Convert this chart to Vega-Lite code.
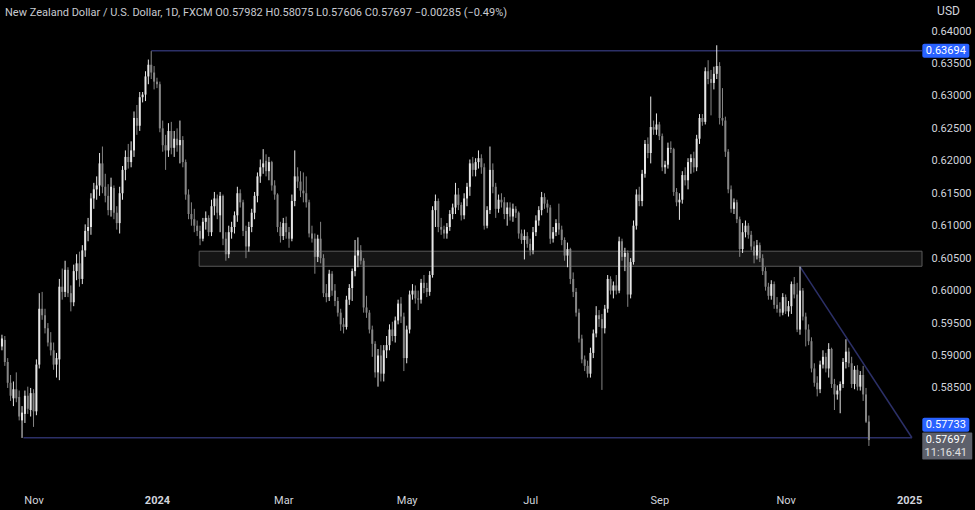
{
"$schema": "https://vega.github.io/schema/vega-lite/v6.json",
"width": 922,
"height": 482,
"autosize": {"type": "none"},
"padding": {"left": 0, "top": 0, "right": 53, "bottom": 28},
"background": "#000000",
"config": {"view": {"stroke": null}, "font": "Roboto", "scale": {"continuousPadding": 0}},
"title": {"text": "New Zealand Dollar / U.S. Dollar, 1D, FXCM   O0.57982  H0.58075  L0.57606  C0.57697  −0.00285 (−0.49%)", "anchor": "start", "frame": "group", "orient": "top", "offset": -18, "dx": 5, "fontSize": 11, "fontWeight": "normal", "color": "#c8cad0", "font": "Roboto"},
"datasets": {
"candles": [
{"i":-54,"o":0.5914,"h":0.5932,"l":0.5908,"c":0.5926},
{"i":-53,"o":0.5924,"h":0.5930,"l":0.5884,"c":0.5890},
{"i":-52,"o":0.5890,"h":0.5896,"l":0.5850,"c":0.5858},
{"i":-51,"o":0.5858,"h":0.5870,"l":0.5830,"c":0.5838},
{"i":-50,"o":0.5834,"h":0.5860,"l":0.5822,"c":0.5848},
{"i":-49,"o":0.5848,"h":0.5874,"l":0.5828,"c":0.5834},
{"i":-48,"o":0.5836,"h":0.5846,"l":0.5800,"c":0.5806},
{"i":-47,"o":0.5800,"h":0.5822,"l":0.5773,"c":0.5812},
{"i":-46,"o":0.5810,"h":0.5846,"l":0.5796,"c":0.5838},
{"i":-45,"o":0.5838,"h":0.5852,"l":0.5810,"c":0.5818},
{"i":-44,"o":0.5816,"h":0.5850,"l":0.5806,"c":0.5842},
{"i":-43,"o":0.5842,"h":0.5848,"l":0.5790,"c":0.5814},
{"i":-42,"o":0.5814,"h":0.5894,"l":0.5808,"c":0.5886},
{"i":-41,"o":0.5886,"h":0.5996,"l":0.5880,"c":0.5972},
{"i":-40,"o":0.5972,"h":0.5998,"l":0.5955,"c":0.5962},
{"i":-39,"o":0.5962,"h":0.5972,"l":0.5934,"c":0.5942},
{"i":-38,"o":0.5942,"h":0.5950,"l":0.5914,"c":0.5920},
{"i":-37,"o":0.5920,"h":0.5936,"l":0.5900,"c":0.5908},
{"i":-36,"o":0.5908,"h":0.5920,"l":0.5878,"c":0.5886},
{"i":-35,"o":0.5886,"h":0.5904,"l":0.5866,"c":0.5896},
{"i":-34,"o":0.5894,"h":0.6018,"l":0.5862,"c":0.6006},
{"i":-33,"o":0.6006,"h":0.6034,"l":0.5986,"c":0.5998},
{"i":-32,"o":0.5998,"h":0.6046,"l":0.5990,"c":0.6032},
{"i":-31,"o":0.6032,"h":0.6036,"l":0.5990,"c":0.5996},
{"i":-30,"o":0.5996,"h":0.6008,"l":0.5968,"c":0.5982},
{"i":-29,"o":0.5982,"h":0.6040,"l":0.5976,"c":0.6030},
{"i":-28,"o":0.6030,"h":0.6056,"l":0.6016,"c":0.6042},
{"i":-27,"o":0.6042,"h":0.6060,"l":0.6006,"c":0.6018},
{"i":-26,"o":0.6018,"h":0.6070,"l":0.6010,"c":0.6062},
{"i":-25,"o":0.6062,"h":0.6102,"l":0.6052,"c":0.6092},
{"i":-24,"o":0.6092,"h":0.6112,"l":0.6076,"c":0.6098},
{"i":-23,"o":0.6098,"h":0.6150,"l":0.6086,"c":0.6142},
{"i":-22,"o":0.6142,"h":0.6166,"l":0.6126,"c":0.6156},
{"i":-21,"o":0.6156,"h":0.6176,"l":0.6140,"c":0.6162},
{"i":-20,"o":0.6162,"h":0.6212,"l":0.6146,"c":0.6196},
{"i":-19,"o":0.6196,"h":0.6222,"l":0.6150,"c":0.6160},
{"i":-18,"o":0.6160,"h":0.6180,"l":0.6136,"c":0.6146},
{"i":-17,"o":0.6146,"h":0.6164,"l":0.6116,"c":0.6124},
{"i":-16,"o":0.6124,"h":0.6174,"l":0.6114,"c":0.6160},
{"i":-15,"o":0.6158,"h":0.6162,"l":0.6110,"c":0.6120},
{"i":-14,"o":0.6120,"h":0.6130,"l":0.6094,"c":0.6104},
{"i":-13,"o":0.6104,"h":0.6160,"l":0.6088,"c":0.6150},
{"i":-12,"o":0.6150,"h":0.6192,"l":0.6140,"c":0.6186},
{"i":-11,"o":0.6186,"h":0.6216,"l":0.6170,"c":0.6206},
{"i":-10,"o":0.6206,"h":0.6226,"l":0.6188,"c":0.6198},
{"i":-9,"o":0.6198,"h":0.6230,"l":0.6190,"c":0.6216},
{"i":-8,"o":0.6216,"h":0.6276,"l":0.6206,"c":0.6266},
{"i":-7,"o":0.6266,"h":0.6286,"l":0.6240,"c":0.6254},
{"i":-6,"o":0.6254,"h":0.6306,"l":0.6246,"c":0.6298},
{"i":-5,"o":0.6298,"h":0.6306,"l":0.6290,"c":0.6302},
{"i":-4,"o":0.6302,"h":0.6338,"l":0.6292,"c":0.6330},
{"i":-3,"o":0.6330,"h":0.6356,"l":0.6318,"c":0.6348},
{"i":-2,"o":0.6348,"h":0.6369,"l":0.6326,"c":0.6336},
{"i":-1,"o":0.6336,"h":0.6346,"l":0.6310,"c":0.6322},
{"i":0,"o":0.6322,"h":0.6328,"l":0.6312,"c":0.6318},
{"i":1,"o":0.6318,"h":0.6322,"l":0.6244,"c":0.6250},
{"i":2,"o":0.6250,"h":0.6262,"l":0.6214,"c":0.6224},
{"i":3,"o":0.6224,"h":0.6240,"l":0.6186,"c":0.6216},
{"i":4,"o":0.6216,"h":0.6258,"l":0.6206,"c":0.6246},
{"i":5,"o":0.6246,"h":0.6260,"l":0.6210,"c":0.6220},
{"i":6,"o":0.6220,"h":0.6246,"l":0.6206,"c":0.6234},
{"i":7,"o":0.6234,"h":0.6250,"l":0.6214,"c":0.6224},
{"i":8,"o":0.6224,"h":0.6262,"l":0.6196,"c":0.6232},
{"i":9,"o":0.6232,"h":0.6238,"l":0.6190,"c":0.6198},
{"i":10,"o":0.6198,"h":0.6202,"l":0.6140,"c":0.6148},
{"i":11,"o":0.6148,"h":0.6156,"l":0.6110,"c":0.6118},
{"i":12,"o":0.6118,"h":0.6136,"l":0.6100,"c":0.6110},
{"i":13,"o":0.6110,"h":0.6126,"l":0.6090,"c":0.6100},
{"i":14,"o":0.6100,"h":0.6108,"l":0.6084,"c":0.6092},
{"i":15,"o":0.6092,"h":0.6100,"l":0.6070,"c":0.6080},
{"i":16,"o":0.6080,"h":0.6112,"l":0.6076,"c":0.6106},
{"i":17,"o":0.6106,"h":0.6122,"l":0.6094,"c":0.6112},
{"i":18,"o":0.6112,"h":0.6116,"l":0.6084,"c":0.6090},
{"i":19,"o":0.6090,"h":0.6140,"l":0.6084,"c":0.6130},
{"i":20,"o":0.6130,"h":0.6152,"l":0.6116,"c":0.6142},
{"i":21,"o":0.6142,"h":0.6148,"l":0.6110,"c":0.6120},
{"i":22,"o":0.6116,"h":0.6152,"l":0.6090,"c":0.6146},
{"i":23,"o":0.6146,"h":0.6148,"l":0.6070,"c":0.6080},
{"i":24,"o":0.6080,"h":0.6090,"l":0.6046,"c":0.6056},
{"i":25,"o":0.6056,"h":0.6100,"l":0.6050,"c":0.6090},
{"i":26,"o":0.6090,"h":0.6106,"l":0.6080,"c":0.6098},
{"i":27,"o":0.6098,"h":0.6122,"l":0.6088,"c":0.6116},
{"i":28,"o":0.6116,"h":0.6160,"l":0.6106,"c":0.6150},
{"i":29,"o":0.6150,"h":0.6156,"l":0.6128,"c":0.6136},
{"i":30,"o":0.6136,"h":0.6140,"l":0.6084,"c":0.6092},
{"i":31,"o":0.6092,"h":0.6100,"l":0.6050,"c":0.6068},
{"i":32,"o":0.6068,"h":0.6106,"l":0.6060,"c":0.6098},
{"i":33,"o":0.6098,"h":0.6126,"l":0.6090,"c":0.6120},
{"i":34,"o":0.6120,"h":0.6152,"l":0.6110,"c":0.6146},
{"i":35,"o":0.6146,"h":0.6182,"l":0.6136,"c":0.6176},
{"i":36,"o":0.6176,"h":0.6202,"l":0.6166,"c":0.6190},
{"i":37,"o":0.6190,"h":0.6218,"l":0.6180,"c":0.6196},
{"i":38,"o":0.6200,"h":0.6210,"l":0.6176,"c":0.6184},
{"i":39,"o":0.6184,"h":0.6206,"l":0.6170,"c":0.6198},
{"i":40,"o":0.6198,"h":0.6200,"l":0.6154,"c":0.6162},
{"i":41,"o":0.6162,"h":0.6170,"l":0.6140,"c":0.6148},
{"i":42,"o":0.6148,"h":0.6150,"l":0.6090,"c":0.6098},
{"i":43,"o":0.6098,"h":0.6106,"l":0.6074,"c":0.6084},
{"i":44,"o":0.6084,"h":0.6112,"l":0.6078,"c":0.6104},
{"i":45,"o":0.6104,"h":0.6114,"l":0.6080,"c":0.6090},
{"i":46,"o":0.6090,"h":0.6098,"l":0.6066,"c":0.6080},
{"i":47,"o":0.6080,"h":0.6148,"l":0.6076,"c":0.6138},
{"i":48,"o":0.6138,"h":0.6216,"l":0.6130,"c":0.6176},
{"i":49,"o":0.6176,"h":0.6190,"l":0.6158,"c":0.6168},
{"i":50,"o":0.6168,"h":0.6184,"l":0.6144,"c":0.6154},
{"i":51,"o":0.6154,"h":0.6182,"l":0.6136,"c":0.6150},
{"i":52,"o":0.6150,"h":0.6176,"l":0.6128,"c":0.6136},
{"i":53,"o":0.6136,"h":0.6140,"l":0.6082,"c":0.6088},
{"i":54,"o":0.6088,"h":0.6100,"l":0.6074,"c":0.6080},
{"i":55,"o":0.6080,"h":0.6088,"l":0.6026,"c":0.6052},
{"i":56,"o":0.6052,"h":0.6086,"l":0.6044,"c":0.6080},
{"i":57,"o":0.6080,"h":0.6106,"l":0.6042,"c":0.6050},
{"i":58,"o":0.6050,"h":0.6056,"l":0.5990,"c":0.5996},
{"i":59,"o":0.5996,"h":0.6010,"l":0.5982,"c":0.5990},
{"i":60,"o":0.5990,"h":0.6032,"l":0.5984,"c":0.6026},
{"i":61,"o":0.6026,"h":0.6030,"l":0.5992,"c":0.6000},
{"i":62,"o":0.6000,"h":0.6010,"l":0.5976,"c":0.5984},
{"i":63,"o":0.5984,"h":0.5990,"l":0.5960,"c":0.5966},
{"i":64,"o":0.5966,"h":0.5972,"l":0.5938,"c":0.5948},
{"i":65,"o":0.5948,"h":0.5958,"l":0.5934,"c":0.5944},
{"i":66,"o":0.5944,"h":0.5992,"l":0.5940,"c":0.5986},
{"i":67,"o":0.5986,"h":0.6010,"l":0.5978,"c":0.6004},
{"i":68,"o":0.6004,"h":0.6034,"l":0.5984,"c":0.6030},
{"i":69,"o":0.6030,"h":0.6078,"l":0.6022,"c":0.6054},
{"i":70,"o":0.6054,"h":0.6082,"l":0.6036,"c":0.6062},
{"i":71,"o":0.6062,"h":0.6070,"l":0.6040,"c":0.6046},
{"i":72,"o":0.6046,"h":0.6050,"l":0.5966,"c":0.5974},
{"i":73,"o":0.5974,"h":0.5992,"l":0.5958,"c":0.5966},
{"i":74,"o":0.5966,"h":0.5970,"l":0.5934,"c":0.5940},
{"i":75,"o":0.5940,"h":0.5946,"l":0.5898,"c":0.5918},
{"i":76,"o":0.5918,"h":0.5922,"l":0.5866,"c":0.5874},
{"i":77,"o":0.5874,"h":0.5910,"l":0.5852,"c":0.5900},
{"i":78,"o":0.5900,"h":0.5916,"l":0.5860,"c":0.5872},
{"i":79,"o":0.5872,"h":0.5916,"l":0.5860,"c":0.5908},
{"i":80,"o":0.5908,"h":0.5930,"l":0.5896,"c":0.5916},
{"i":81,"o":0.5916,"h":0.5948,"l":0.5908,"c":0.5940},
{"i":82,"o":0.5940,"h":0.5952,"l":0.5922,"c":0.5930},
{"i":83,"o":0.5930,"h":0.5960,"l":0.5920,"c":0.5954},
{"i":84,"o":0.5954,"h":0.5986,"l":0.5948,"c":0.5980},
{"i":85,"o":0.5980,"h":0.5990,"l":0.5950,"c":0.5960},
{"i":86,"o":0.5960,"h":0.5966,"l":0.5876,"c":0.5896},
{"i":87,"o":0.5896,"h":0.5946,"l":0.5888,"c":0.5940},
{"i":88,"o":0.5940,"h":0.6000,"l":0.5934,"c":0.5994},
{"i":89,"o":0.5994,"h":0.6010,"l":0.5986,"c":0.6000},
{"i":90,"o":0.6000,"h":0.6008,"l":0.5980,"c":0.5988},
{"i":91,"o":0.5988,"h":0.6000,"l":0.5970,"c":0.5986},
{"i":92,"o":0.5986,"h":0.6018,"l":0.5980,"c":0.6012},
{"i":93,"o":0.6012,"h":0.6024,"l":0.5996,"c":0.6004},
{"i":94,"o":0.6004,"h":0.6012,"l":0.5990,"c":0.5998},
{"i":95,"o":0.5998,"h":0.6030,"l":0.5992,"c":0.6024},
{"i":96,"o":0.6024,"h":0.6130,"l":0.6020,"c":0.6124},
{"i":97,"o":0.6124,"h":0.6148,"l":0.6098,"c":0.6138},
{"i":98,"o":0.6138,"h":0.6142,"l":0.6090,"c":0.6098},
{"i":99,"o":0.6098,"h":0.6112,"l":0.6086,"c":0.6094},
{"i":100,"o":0.6094,"h":0.6100,"l":0.6080,"c":0.6088},
{"i":101,"o":0.6088,"h":0.6104,"l":0.6080,"c":0.6098},
{"i":102,"o":0.6098,"h":0.6124,"l":0.6092,"c":0.6118},
{"i":103,"o":0.6118,"h":0.6134,"l":0.6110,"c":0.6128},
{"i":104,"o":0.6128,"h":0.6166,"l":0.6118,"c":0.6148},
{"i":105,"o":0.6148,"h":0.6158,"l":0.6124,"c":0.6132},
{"i":106,"o":0.6132,"h":0.6136,"l":0.6108,"c":0.6116},
{"i":107,"o":0.6116,"h":0.6150,"l":0.6110,"c":0.6142},
{"i":108,"o":0.6142,"h":0.6166,"l":0.6130,"c":0.6160},
{"i":109,"o":0.6160,"h":0.6202,"l":0.6146,"c":0.6196},
{"i":110,"o":0.6196,"h":0.6206,"l":0.6176,"c":0.6186},
{"i":111,"o":0.6186,"h":0.6204,"l":0.6176,"c":0.6198},
{"i":112,"o":0.6198,"h":0.6216,"l":0.6188,"c":0.6204},
{"i":113,"o":0.6204,"h":0.6210,"l":0.6180,"c":0.6190},
{"i":114,"o":0.6190,"h":0.6196,"l":0.6094,"c":0.6100},
{"i":115,"o":0.6100,"h":0.6130,"l":0.6096,"c":0.6124},
{"i":116,"o":0.6124,"h":0.6222,"l":0.6118,"c":0.6186},
{"i":117,"o":0.6186,"h":0.6196,"l":0.6150,"c":0.6160},
{"i":118,"o":0.6160,"h":0.6166,"l":0.6112,"c":0.6126},
{"i":119,"o":0.6126,"h":0.6148,"l":0.6120,"c":0.6140},
{"i":120,"o":0.6140,"h":0.6150,"l":0.6128,"c":0.6136},
{"i":121,"o":0.6136,"h":0.6144,"l":0.6110,"c":0.6118},
{"i":122,"o":0.6118,"h":0.6136,"l":0.6100,"c":0.6128},
{"i":123,"o":0.6128,"h":0.6136,"l":0.6108,"c":0.6114},
{"i":124,"o":0.6114,"h":0.6134,"l":0.6106,"c":0.6126},
{"i":125,"o":0.6126,"h":0.6130,"l":0.6112,"c":0.6120},
{"i":126,"o":0.6120,"h":0.6122,"l":0.6080,"c":0.6088},
{"i":127,"o":0.6088,"h":0.6094,"l":0.6072,"c":0.6078},
{"i":128,"o":0.6078,"h":0.6094,"l":0.6048,"c":0.6084},
{"i":129,"o":0.6084,"h":0.6090,"l":0.6066,"c":0.6072},
{"i":130,"o":0.6072,"h":0.6080,"l":0.6054,"c":0.6062},
{"i":131,"o":0.6062,"h":0.6098,"l":0.6056,"c":0.6090},
{"i":132,"o":0.6090,"h":0.6116,"l":0.6084,"c":0.6108},
{"i":133,"o":0.6108,"h":0.6130,"l":0.6100,"c":0.6124},
{"i":134,"o":0.6124,"h":0.6152,"l":0.6116,"c":0.6144},
{"i":135,"o":0.6144,"h":0.6150,"l":0.6126,"c":0.6134},
{"i":136,"o":0.6134,"h":0.6140,"l":0.6120,"c":0.6128},
{"i":137,"o":0.6128,"h":0.6132,"l":0.6072,"c":0.6080},
{"i":138,"o":0.6080,"h":0.6098,"l":0.6074,"c":0.6090},
{"i":139,"o":0.6090,"h":0.6110,"l":0.6084,"c":0.6104},
{"i":140,"o":0.6104,"h":0.6134,"l":0.6086,"c":0.6094},
{"i":141,"o":0.6094,"h":0.6100,"l":0.6070,"c":0.6078},
{"i":142,"o":0.6078,"h":0.6082,"l":0.6046,"c":0.6054},
{"i":143,"o":0.6054,"h":0.6074,"l":0.6036,"c":0.6064},
{"i":144,"o":0.6064,"h":0.6066,"l":0.6010,"c":0.6018},
{"i":145,"o":0.6018,"h":0.6028,"l":0.5990,"c":0.5998},
{"i":146,"o":0.5998,"h":0.6004,"l":0.5960,"c":0.5966},
{"i":147,"o":0.5966,"h":0.5972,"l":0.5920,"c":0.5926},
{"i":148,"o":0.5926,"h":0.5932,"l":0.5888,"c":0.5894},
{"i":149,"o":0.5894,"h":0.5900,"l":0.5876,"c":0.5884},
{"i":150,"o":0.5884,"h":0.5892,"l":0.5866,"c":0.5872},
{"i":151,"o":0.5872,"h":0.5912,"l":0.5866,"c":0.5904},
{"i":152,"o":0.5904,"h":0.5940,"l":0.5896,"c":0.5934},
{"i":153,"o":0.5934,"h":0.5976,"l":0.5928,"c":0.5962},
{"i":154,"o":0.5962,"h":0.5970,"l":0.5944,"c":0.5956},
{"i":155,"o":0.5956,"h":0.5964,"l":0.5847,"c":0.5942},
{"i":156,"o":0.5942,"h":0.5978,"l":0.5934,"c":0.5972},
{"i":157,"o":0.5972,"h":0.6024,"l":0.5966,"c":0.6018},
{"i":158,"o":0.6018,"h":0.6022,"l":0.5994,"c":0.6000},
{"i":159,"o":0.6000,"h":0.6014,"l":0.5988,"c":0.6008},
{"i":160,"o":0.6008,"h":0.6024,"l":0.5994,"c":0.6000},
{"i":161,"o":0.6000,"h":0.6083,"l":0.5996,"c":0.6076},
{"i":162,"o":0.6076,"h":0.6080,"l":0.6046,"c":0.6052},
{"i":163,"o":0.6052,"h":0.6066,"l":0.6030,"c":0.6058},
{"i":164,"o":0.6058,"h":0.6062,"l":0.5975,"c":0.5994},
{"i":165,"o":0.5994,"h":0.6050,"l":0.5988,"c":0.6044},
{"i":166,"o":0.6044,"h":0.6108,"l":0.6040,"c":0.6100},
{"i":167,"o":0.6100,"h":0.6156,"l":0.6094,"c":0.6148},
{"i":168,"o":0.6148,"h":0.6160,"l":0.6130,"c":0.6138},
{"i":169,"o":0.6138,"h":0.6186,"l":0.6130,"c":0.6180},
{"i":170,"o":0.6180,"h":0.6232,"l":0.6174,"c":0.6226},
{"i":171,"o":0.6226,"h":0.6236,"l":0.6204,"c":0.6212},
{"i":172,"o":0.6212,"h":0.6299,"l":0.6196,"c":0.6252},
{"i":173,"o":0.6252,"h":0.6262,"l":0.6240,"c":0.6248},
{"i":174,"o":0.6248,"h":0.6273,"l":0.6240,"c":0.6256},
{"i":175,"o":0.6256,"h":0.6260,"l":0.6232,"c":0.6238},
{"i":176,"o":0.6238,"h":0.6242,"l":0.6184,"c":0.6190},
{"i":177,"o":0.6190,"h":0.6200,"l":0.6180,"c":0.6194},
{"i":178,"o":0.6194,"h":0.6228,"l":0.6188,"c":0.6220},
{"i":179,"o":0.6220,"h":0.6230,"l":0.6212,"c":0.6218},
{"i":180,"o":0.6218,"h":0.6220,"l":0.6146,"c":0.6152},
{"i":181,"o":0.6152,"h":0.6158,"l":0.6130,"c":0.6136},
{"i":182,"o":0.6136,"h":0.6150,"l":0.6109,"c":0.6140},
{"i":183,"o":0.6140,"h":0.6184,"l":0.6134,"c":0.6178},
{"i":184,"o":0.6178,"h":0.6190,"l":0.6162,"c":0.6170},
{"i":185,"o":0.6170,"h":0.6204,"l":0.6156,"c":0.6198},
{"i":186,"o":0.6198,"h":0.6210,"l":0.6180,"c":0.6204},
{"i":187,"o":0.6204,"h":0.6214,"l":0.6182,"c":0.6190},
{"i":188,"o":0.6190,"h":0.6240,"l":0.6184,"c":0.6234},
{"i":189,"o":0.6234,"h":0.6272,"l":0.6226,"c":0.6266},
{"i":190,"o":0.6266,"h":0.6272,"l":0.6254,"c":0.6260},
{"i":191,"o":0.6260,"h":0.6344,"l":0.6256,"c":0.6338},
{"i":192,"o":0.6338,"h":0.6355,"l":0.6318,"c":0.6326},
{"i":193,"o":0.6326,"h":0.6340,"l":0.6270,"c":0.6320},
{"i":194,"o":0.6320,"h":0.6345,"l":0.6310,"c":0.6334},
{"i":195,"o":0.6334,"h":0.6378,"l":0.6326,"c":0.6346},
{"i":196,"o":0.6346,"h":0.6352,"l":0.6256,"c":0.6266},
{"i":197,"o":0.6266,"h":0.6312,"l":0.6254,"c":0.6262},
{"i":198,"o":0.6262,"h":0.6268,"l":0.6206,"c":0.6214},
{"i":199,"o":0.6214,"h":0.6218,"l":0.6150,"c":0.6156},
{"i":200,"o":0.6156,"h":0.6162,"l":0.6120,"c":0.6126},
{"i":201,"o":0.6126,"h":0.6142,"l":0.6118,"c":0.6136},
{"i":202,"o":0.6136,"h":0.6140,"l":0.6104,"c":0.6110},
{"i":203,"o":0.6110,"h":0.6114,"l":0.6052,"c":0.6064},
{"i":204,"o":0.6064,"h":0.6104,"l":0.6058,"c":0.6090},
{"i":205,"o":0.6090,"h":0.6108,"l":0.6082,"c":0.6100},
{"i":206,"o":0.6100,"h":0.6104,"l":0.6080,"c":0.6086},
{"i":207,"o":0.6086,"h":0.6092,"l":0.6062,"c":0.6068},
{"i":208,"o":0.6068,"h":0.6076,"l":0.6042,"c":0.6054},
{"i":209,"o":0.6054,"h":0.6078,"l":0.6048,"c":0.6070},
{"i":210,"o":0.6070,"h":0.6074,"l":0.6044,"c":0.6050},
{"i":211,"o":0.6050,"h":0.6056,"l":0.6024,"c":0.6030},
{"i":212,"o":0.6030,"h":0.6036,"l":0.6000,"c":0.6006},
{"i":213,"o":0.6006,"h":0.6012,"l":0.5986,"c":0.5992},
{"i":214,"o":0.5992,"h":0.6016,"l":0.5986,"c":0.6010},
{"i":215,"o":0.6010,"h":0.6014,"l":0.5972,"c":0.5978},
{"i":216,"o":0.5978,"h":0.5990,"l":0.5966,"c":0.5972},
{"i":217,"o":0.5972,"h":0.5982,"l":0.5960,"c":0.5966},
{"i":218,"o":0.5966,"h":0.5996,"l":0.5962,"c":0.5990},
{"i":219,"o":0.5990,"h":0.5994,"l":0.5964,"c":0.5968},
{"i":220,"o":0.5968,"h":0.5984,"l":0.5960,"c":0.5976},
{"i":221,"o":0.5976,"h":0.6014,"l":0.5964,"c":0.6010},
{"i":222,"o":0.6010,"h":0.6021,"l":0.5988,"c":0.5994},
{"i":223,"o":0.5994,"h":0.6012,"l":0.5936,"c":0.5940},
{"i":224,"o":0.5940,"h":0.6037,"l":0.5932,"c":0.6000},
{"i":225,"o":0.6000,"h":0.6004,"l":0.5954,"c":0.5960},
{"i":226,"o":0.5960,"h":0.5966,"l":0.5914,"c":0.5940},
{"i":227,"o":0.5940,"h":0.5948,"l":0.5916,"c":0.5922},
{"i":228,"o":0.5922,"h":0.5928,"l":0.5874,"c":0.5880},
{"i":229,"o":0.5880,"h":0.5888,"l":0.5852,"c":0.5858},
{"i":230,"o":0.5858,"h":0.5868,"l":0.5837,"c":0.5848},
{"i":231,"o":0.5848,"h":0.5892,"l":0.5842,"c":0.5886},
{"i":232,"o":0.5886,"h":0.5908,"l":0.5880,"c":0.5898},
{"i":233,"o":0.5898,"h":0.5904,"l":0.5874,"c":0.5880},
{"i":234,"o":0.5880,"h":0.5919,"l":0.5866,"c":0.5910},
{"i":235,"o":0.5910,"h":0.5912,"l":0.5850,"c":0.5856},
{"i":236,"o":0.5856,"h":0.5864,"l":0.5816,"c":0.5840},
{"i":237,"o":0.5840,"h":0.5854,"l":0.5832,"c":0.5846},
{"i":238,"o":0.5846,"h":0.5860,"l":0.5811,"c":0.5856},
{"i":239,"o":0.5856,"h":0.5896,"l":0.5850,"c":0.5890},
{"i":240,"o":0.5890,"h":0.5925,"l":0.5880,"c":0.5906},
{"i":241,"o":0.5906,"h":0.5912,"l":0.5882,"c":0.5888},
{"i":242,"o":0.5888,"h":0.5898,"l":0.5850,"c":0.5856},
{"i":243,"o":0.5856,"h":0.5884,"l":0.5848,"c":0.5878},
{"i":244,"o":0.5878,"h":0.5885,"l":0.5846,"c":0.5852},
{"i":245,"o":0.5852,"h":0.5876,"l":0.5846,"c":0.5870},
{"i":246,"o":0.5870,"h":0.5884,"l":0.5830,"c":0.5840},
{"i":247,"o":0.5840,"h":0.5850,"l":0.5796,"c":0.5798},
{"i":248,"o":0.57982,"h":0.58075,"l":0.57606,"c":0.57697}
],
"zone": [{"i1":14.7,"i2":266.5,"p1":0.60375,"p2":0.60607}],
"lines": [
{"name":"resistance","i1":-2,"i2":266.5,"p1":0.63694,"p2":0.63694},
{"name":"support","i1":-46.5,"i2":263,"p1":0.57733,"p2":0.57733},
{"name":"trendline","i1":224,"i2":263,"p1":0.6037,"p2":0.57733}
],
"tagTop": [{"p":0.63694,"t":"0.63694"}],
"tagSupport": [{"p":0.57733,"t":"0.57733"}],
"tagLast": [{"p":0.57697,"t":"0.57697","cd":"11:16:41"}]
},
"layer": [
{
"data": {"name": "zone"},
"mark": {"type": "rect", "fill": "#151515", "stroke": "#5a5a5a", "strokeWidth": 1},
"encoding": {
"x": {"field": "i1", "type": "quantitative", "scale": {"domain": [-54.68, 266.5], "nice": false, "zero": false, "padding": 0}, "axis": {"values": [-43, 0, 44, 87, 130, 175, 219, 262], "labelExpr": "datum.value == -43 ? 'Nov' : datum.value == 0 ? '2024' : datum.value == 44 ? 'Mar' : datum.value == 87 ? 'May' : datum.value == 130 ? 'Jul' : datum.value == 175 ? 'Sep' : datum.value == 219 ? 'Nov' : '2025'", "title": null, "domain": false, "ticks": false, "grid": false, "labelColor": "#d1d4dc", "labelFontSize": 11, "labelPadding": 12, "labelFlush": false, "labelOverlap": false, "labelBound": false, "labelFontWeight": {"condition": {"test": "datum.value == 0 || datum.value == 262", "value": "bold"}, "value": "normal"}}},
"x2": {"field": "i2"},
"y": {"field": "p1", "type": "quantitative", "scale": {"domain": [0.570508, 0.644777], "nice": false, "zero": false}, "axis": {"orient": "right", "values": [0.585, 0.59, 0.595, 0.6, 0.605, 0.61, 0.615, 0.62, 0.625, 0.63, 0.635, 0.64], "format": ".5f", "domain": false, "ticks": false, "grid": false, "labelColor": "#d1d4dc", "labelFontSize": 11, "labelPadding": 9, "title": "USD", "titleAngle": 0, "titleX": 26, "titleY": 10, "titleAlign": "center", "titleBaseline": "middle", "titleColor": "#d1d4dc", "titleFontSize": 12, "titleFontWeight": "normal"}},
"y2": {"field": "p2"}
}
},
{
"data": {"name": "lines"},
"mark": {"type": "rule", "color": "#2c3068", "strokeWidth": 1.5},
"encoding": {
"x": {"field": "i1", "type": "quantitative", "scale": {"domain": [-54.68, 266.5], "nice": false, "zero": false, "padding": 0}},
"x2": {"field": "i2"},
"y": {"field": "p1", "type": "quantitative", "scale": {"domain": [0.570508, 0.644777], "nice": false, "zero": false}},
"y2": {"field": "p2"}
}
},
{
"data": {"name": "candles"},
"mark": {"type": "rule", "strokeWidth": 1},
"encoding": {
"x": {"field": "i", "type": "quantitative", "scale": {"domain": [-54.68, 266.5], "nice": false, "zero": false, "padding": 0}},
"y": {"field": "l", "type": "quantitative", "scale": {"domain": [0.570508, 0.644777], "nice": false, "zero": false}},
"y2": {"field": "h"},
"color": {"condition": {"test": "datum.c >= datum.o", "value": "#e6e6e6"}, "value": "#858585"}
}
},
{
"data": {"name": "candles"},
"mark": {"type": "bar", "width": 2},
"encoding": {
"x": {"field": "i", "type": "quantitative", "scale": {"domain": [-54.68, 266.5], "nice": false, "zero": false, "padding": 0}},
"y": {"field": "o", "type": "quantitative", "scale": {"domain": [0.570508, 0.644777], "nice": false, "zero": false}},
"y2": {"field": "c"},
"color": {"condition": {"test": "datum.c >= datum.o", "value": "#e6e6e6"}, "value": "#858585"}
}
},
{
"data": {"name": "tagTop"},
"mark": {"type": "rect", "width": 47, "height": 14, "cornerRadius": 2, "fill": "#2962ff"},
"encoding": {
"x": {"datum": 274.8, "type": "quantitative", "scale": {"domain": [-54.68, 266.5], "nice": false, "zero": false, "padding": 0}},
"y": {"field": "p", "type": "quantitative", "scale": {"domain": [0.570508, 0.644777], "nice": false, "zero": false}}
}
},
{
"data": {"name": "tagTop"},
"mark": {"type": "text", "color": "#ffffff", "fontSize": 11, "align": "center", "baseline": "middle"},
"encoding": {
"x": {"datum": 274.8, "type": "quantitative", "scale": {"domain": [-54.68, 266.5], "nice": false, "zero": false, "padding": 0}},
"y": {"field": "p", "type": "quantitative", "scale": {"domain": [0.570508, 0.644777], "nice": false, "zero": false}},
"text": {"field": "t"}
}
},
{
"data": {"name": "tagLast"},
"mark": {"type": "rect", "width": 50, "height": 27, "yOffset": 6, "cornerRadius": 1, "fill": "#5d606b"},
"encoding": {
"x": {"datum": 275.3, "type": "quantitative", "scale": {"domain": [-54.68, 266.5], "nice": false, "zero": false, "padding": 0}},
"y": {"field": "p", "type": "quantitative", "scale": {"domain": [0.570508, 0.644777], "nice": false, "zero": false}}
}
},
{
"data": {"name": "tagLast"},
"mark": {"type": "text", "color": "#ffffff", "fontSize": 11, "align": "center", "baseline": "middle"},
"encoding": {
"x": {"datum": 274.8, "type": "quantitative", "scale": {"domain": [-54.68, 266.5], "nice": false, "zero": false, "padding": 0}},
"y": {"field": "p", "type": "quantitative", "scale": {"domain": [0.570508, 0.644777], "nice": false, "zero": false}},
"text": {"field": "t"}
}
},
{
"data": {"name": "tagLast"},
"mark": {"type": "text", "color": "#e0e0e0", "fontSize": 11, "align": "center", "baseline": "middle", "yOffset": 13},
"encoding": {
"x": {"datum": 274.8, "type": "quantitative", "scale": {"domain": [-54.68, 266.5], "nice": false, "zero": false, "padding": 0}},
"y": {"field": "p", "type": "quantitative", "scale": {"domain": [0.570508, 0.644777], "nice": false, "zero": false}},
"text": {"field": "cd"}
}
},
{
"data": {"name": "tagSupport"},
"mark": {"type": "rect", "width": 47, "height": 14, "yOffset": -13, "cornerRadius": 2, "fill": "#2962ff"},
"encoding": {
"x": {"datum": 274.8, "type": "quantitative", "scale": {"domain": [-54.68, 266.5], "nice": false, "zero": false, "padding": 0}},
"y": {"field": "p", "type": "quantitative", "scale": {"domain": [0.570508, 0.644777], "nice": false, "zero": false}}
}
},
{
"data": {"name": "tagSupport"},
"mark": {"type": "text", "color": "#ffffff", "fontSize": 11, "align": "center", "baseline": "middle", "yOffset": -13},
"encoding": {
"x": {"datum": 274.8, "type": "quantitative", "scale": {"domain": [-54.68, 266.5], "nice": false, "zero": false, "padding": 0}},
"y": {"field": "p", "type": "quantitative", "scale": {"domain": [0.570508, 0.644777], "nice": false, "zero": false}},
"text": {"field": "t"}
}
}
]
}
